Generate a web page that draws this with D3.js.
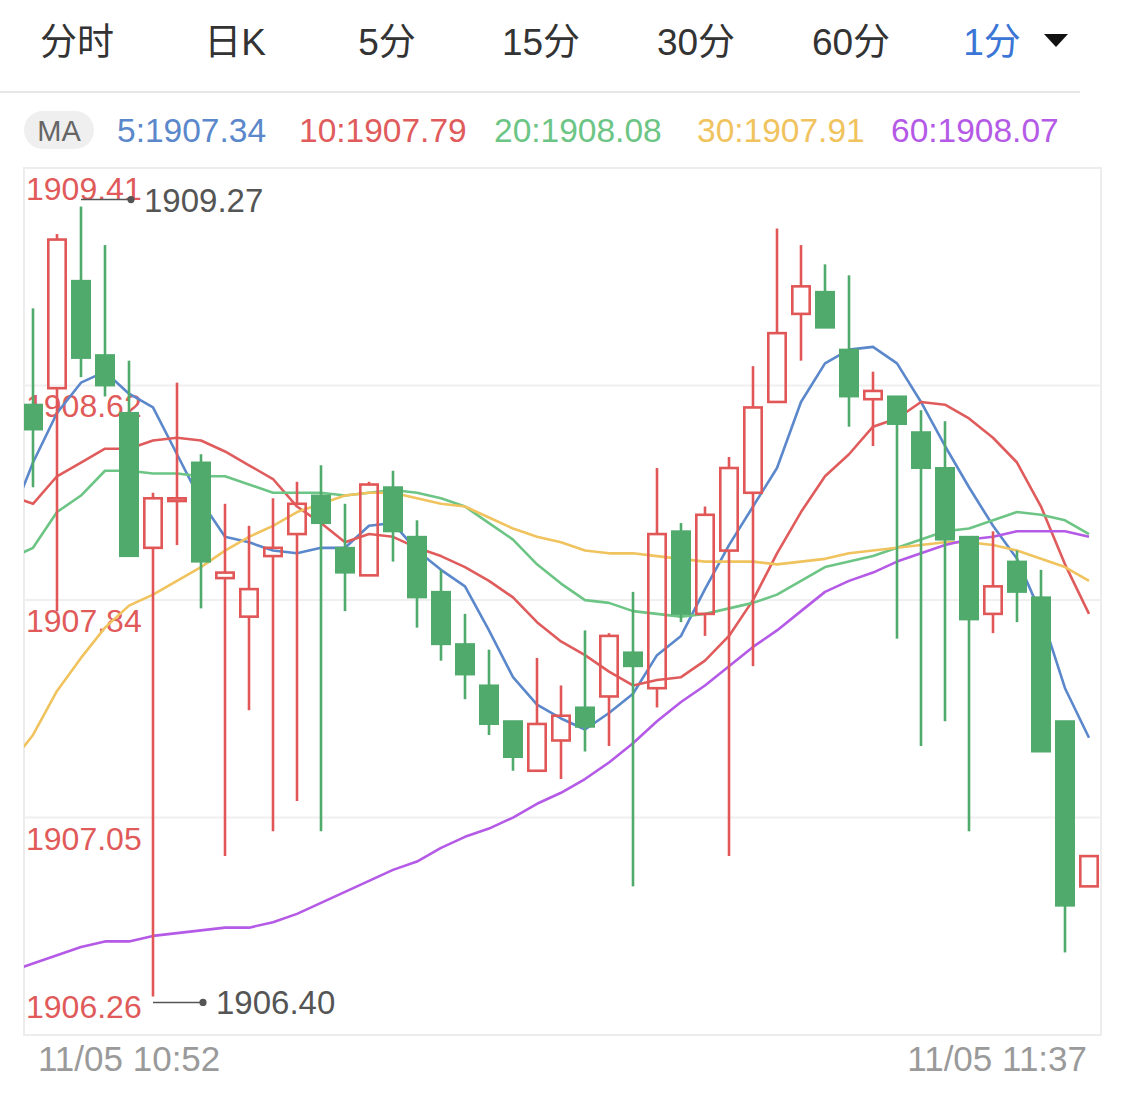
<!DOCTYPE html>
<html><head><meta charset="utf-8">
<script src="https://cdn.jsdelivr.net/npm/d3@7"></script>
<style>body{margin:0;background:#fff;} svg{display:block;}</style>
</head><body><svg id="c" width="1125" height="1102"></svg>
<script>
// ---------- data ----------
const times = ["10:52","10:53","10:54","10:55","10:56","10:57","10:58","10:59","11:00","11:01","11:02","11:03","11:04","11:05","11:06","11:07","11:08","11:09","11:10","11:11","11:12","11:13","11:14","11:15","11:16","11:17","11:18","11:19","11:20","11:21","11:22","11:23","11:24","11:25","11:26","11:27","11:28","11:29","11:31","11:32","11:33","11:34","11:35","11:36","11:37"];
const open  = [1908.55,1908.61,1909.00,1908.73,1908.52,1908.03,1908.20,1908.34,1907.92,1907.78,1908.00,1908.08,1908.22,1908.03,1907.93,1908.25,1908.07,1907.87,1907.68,1907.53,1907.40,1907.22,1907.33,1907.45,1907.49,1907.65,1907.52,1908.09,1907.79,1908.02,1908.23,1908.56,1908.88,1908.96,1908.75,1908.57,1908.58,1908.45,1908.32,1908.07,1907.79,1907.98,1907.85,1907.40,1906.80];
const close = [1908.46,1909.15,1908.72,1908.62,1908.00,1908.21,1908.21,1907.98,1907.94,1907.88,1908.03,1908.19,1908.12,1907.94,1908.26,1908.09,1907.85,1907.68,1907.57,1907.39,1907.27,1907.39,1907.42,1907.38,1907.71,1907.60,1908.08,1907.79,1908.15,1908.32,1908.54,1908.81,1908.98,1908.83,1908.58,1908.60,1908.48,1908.32,1908.06,1907.77,1907.89,1907.87,1907.29,1906.73,1906.91];
const high  = [1908.90,1909.17,1909.27,1909.13,1908.71,1908.23,1908.63,1908.37,1908.19,1908.11,1908.21,1908.27,1908.33,1908.19,1908.27,1908.31,1908.13,1907.95,1907.79,1907.66,1907.40,1907.63,1907.53,1907.73,1907.72,1907.87,1908.32,1908.12,1908.18,1908.36,1908.69,1909.19,1909.13,1909.06,1909.02,1908.67,1908.58,1908.53,1908.49,1908.07,1908.09,1908.02,1907.95,1907.40,1906.91];
const low   = [1908.25,1907.80,1908.65,1908.58,1908.00,1906.40,1908.04,1907.81,1906.91,1907.44,1907.00,1907.11,1907.00,1907.80,1907.93,1907.98,1907.74,1907.62,1907.48,1907.35,1907.22,1907.22,1907.19,1907.29,1907.31,1906.80,1907.45,1907.76,1907.71,1906.91,1907.60,1908.56,1908.71,1908.83,1908.47,1908.40,1907.70,1907.31,1907.40,1907.00,1907.72,1907.76,1907.29,1906.56,1906.80];
// moving averages: first value belongs to the minute before the visible window
const ma5  = [1908.12,1908.34,1908.52,1908.63,1908.67,1908.59,1908.54,1908.37,1908.20,1908.07,1908.05,1908.02,1908.01,1908.03,1908.03,1908.11,1908.12,1908.02,1907.95,1907.89,1907.73,1907.56,1907.46,1907.41,1907.37,1907.43,1907.50,1907.64,1907.71,1907.88,1908.04,1908.18,1908.32,1908.56,1908.70,1908.75,1908.76,1908.70,1908.56,1908.40,1908.25,1908.11,1907.99,1907.79,1907.52,1907.34];
const ma10 = [1908.22,1908.19,1908.29,1908.34,1908.39,1908.39,1908.42,1908.43,1908.42,1908.38,1908.33,1908.28,1908.18,1908.12,1908.05,1908.08,1908.07,1908.03,1908.00,1907.96,1907.91,1907.85,1907.76,1907.69,1907.64,1907.58,1907.53,1907.55,1907.56,1907.62,1907.71,1907.84,1908.01,1908.16,1908.29,1908.37,1908.47,1908.50,1908.56,1908.55,1908.50,1908.43,1908.34,1908.18,1907.97,1907.79];
const ma20 = [1907.99,1908.03,1908.16,1908.22,1908.31,1908.31,1908.30,1908.30,1908.29,1908.29,1908.26,1908.23,1908.23,1908.23,1908.22,1908.23,1908.24,1908.23,1908.21,1908.18,1908.12,1908.06,1907.97,1907.90,1907.84,1907.83,1907.80,1907.79,1907.78,1907.79,1907.81,1907.83,1907.86,1907.91,1907.96,1907.98,1908.00,1908.03,1908.06,1908.09,1908.10,1908.13,1908.16,1908.15,1908.13,1908.08];
const ma30 = [1907.24,1907.35,1907.51,1907.63,1907.74,1907.82,1907.86,1907.91,1907.96,1908.02,1908.07,1908.11,1908.16,1908.19,1908.22,1908.23,1908.23,1908.21,1908.19,1908.18,1908.14,1908.10,1908.07,1908.05,1908.02,1908.01,1908.01,1908.00,1907.99,1907.98,1907.98,1907.98,1907.97,1907.98,1907.99,1908.01,1908.02,1908.03,1908.04,1908.05,1908.05,1908.04,1908.02,1907.99,1907.96,1907.91];
const ma60 = [1906.49,1906.52,1906.55,1906.58,1906.60,1906.60,1906.62,1906.63,1906.64,1906.65,1906.65,1906.67,1906.70,1906.74,1906.78,1906.82,1906.86,1906.89,1906.94,1906.98,1907.01,1907.05,1907.10,1907.14,1907.19,1907.25,1907.32,1907.40,1907.47,1907.53,1907.60,1907.67,1907.73,1907.80,1907.87,1907.91,1907.94,1907.98,1908.01,1908.04,1908.06,1908.07,1908.09,1908.09,1908.09,1908.07];
const maPeriods = [5,10,20,30,60];
const yTicks = [1909.41,1908.62,1907.84,1907.05,1906.26];
const xTickLabels = ["11/05 10:52","11/05 11:37"];
const tabs = ["分时","日K","5分","15分","30分","60分","1分"];

// ---------- layout / style ----------
const NUM = "'Liberation Sans', Arial, 'Noto Sans CJK SC', sans-serif";
const UP = "#e15656", DOWN = "#4faa6c";
const maColors = ["#5b87cb","#e05c5c","#6cc585","#f0c35e","#b45ae6"];
const L = 24, R = 1101, T = 168, B = 1035;

const svg = d3.select("#c");

// tabs
const tabX = [77,235,387,541,696,851,992];
svg.selectAll("text.tab").data(tabs).join("text")
  .attr("x",(d,i)=>tabX[i]).attr("y",55)
  .attr("text-anchor","middle")
  .attr("font-family",NUM).attr("font-size",37)
  .attr("fill",(d,i)=> i===tabs.length-1 ? "#3b76d6" : "#333")
  .text(d=>d);
svg.append("path").attr("d","M1044,34 L1068,34 L1056,47 Z").attr("fill","#111");
svg.append("line").attr("x1",0).attr("x2",1080).attr("y1",92).attr("y2",92)
  .attr("stroke","#e6e6e6").attr("stroke-width",2);

// MA legend
svg.append("rect").attr("x",24).attr("y",111).attr("width",70).attr("height",38)
  .attr("rx",19).attr("fill","#efefef");
svg.append("text").attr("x",59).attr("y",141).attr("text-anchor","middle")
  .attr("font-family",NUM).attr("font-size",29).attr("fill","#666").text("MA");
const maAll = [ma5,ma10,ma20,ma30,ma60];
const legX = [117,299,494,697,891];
svg.selectAll("text.leg").data(maPeriods).join("text")
  .attr("x",(d,i)=>legX[i]).attr("y",142)
  .attr("font-family",NUM).attr("font-size",33.5)
  .attr("fill",(d,i)=>maColors[i])
  .text((d,i)=> d+":"+d3.format(".2f")(maAll[i][maAll[i].length-1]));

// scales
const x = d3.scaleBand().domain(times).range([21,1101]).padding(0);
const cx = t => x(t) + x.bandwidth()/2;
const step = x.step();
const y = d3.scaleLinear().domain([yTicks[yTicks.length-1], yTicks[0]]).range([B,T]);

// frame and grid
svg.append("rect").attr("x",L).attr("y",T).attr("width",R-L).attr("height",B-T)
  .attr("fill","none").attr("stroke","#ededed").attr("stroke-width",2);
svg.selectAll("line.grid").data(yTicks.slice(1,-1)).join("line")
  .attr("x1",L).attr("x2",R).attr("y1",d=>y(d)).attr("y2",d=>y(d))
  .attr("stroke","#efefef").attr("stroke-width",2);

// y labels
svg.selectAll("text.ylab").data(yTicks).join("text")
  .attr("x",26)
  .attr("y",(d,i)=> i===yTicks.length-1 ? y(d)-17 : y(d)+32)
  .attr("font-family",NUM).attr("font-size",32).attr("fill","#e05a5a")
  .text(d=>d3.format(".2f")(d));

// x labels
svg.append("text").attr("x",38).attr("y",1071).attr("font-family",NUM).attr("font-size",35)
  .attr("fill","#9a9a9a").text(xTickLabels[0]);
svg.append("text").attr("x",1087).attr("y",1071).attr("text-anchor","end").attr("font-family",NUM).attr("font-size",35)
  .attr("fill","#9a9a9a").text(xTickLabels[1]);

// clip
svg.append("clipPath").attr("id","clip").append("rect")
  .attr("x",L).attr("y",T).attr("width",R-L).attr("height",B-T);
const plot = svg.append("g").attr("clip-path","url(#clip)");

// MA lines
const x0 = cx(times[0]);
const line = d3.line().x((d,j)=> x0 + (j-1)*step).y(d=>y(d));
maAll.forEach((arr,i)=>{
  plot.append("path").attr("d",line(arr)).attr("fill","none")
    .attr("stroke",maColors[i]).attr("stroke-width",2.6).attr("stroke-linejoin","round");
});

// candles
const candles = times.map((t,i)=>({t,o:open[i],c:close[i],h:high[i],l:low[i],up:close[i]>=open[i]}));
const g = plot.append("g");
candles.forEach(d=>{
  const X = cx(d.t);
  const col = d.up ? UP : DOWN;
  const top = y(Math.max(d.o,d.c)), bot = y(Math.min(d.o,d.c));
  g.append("line").attr("x1",X).attr("x2",X).attr("y1",y(d.h)).attr("y2",top)
    .attr("stroke",col).attr("stroke-width",2.6);
  g.append("line").attr("x1",X).attr("x2",X).attr("y1",bot).attr("y2",y(d.l))
    .attr("stroke",col).attr("stroke-width",2.6);
  if (d.up) {
    g.append("rect").attr("x",X-8.7).attr("y",top).attr("width",17.4).attr("height",Math.max(bot-top,1))
      .attr("fill","none").attr("stroke",col).attr("stroke-width",2.6);
  } else {
    g.append("rect").attr("x",X-10).attr("y",top-1).attr("width",20).attr("height",Math.max(bot-top+2,2))
      .attr("fill",col);
  }
});

// max / min annotations
const iMax = d3.maxIndex(high), iMin = d3.minIndex(low);
function annot(i,val,dy){
  const X = cx(times[i]), Y = y(val)+dy;
  svg.append("line").attr("x1",X).attr("x2",X+50).attr("y1",Y).attr("y2",Y)
    .attr("stroke","#555").attr("stroke-width",1.6);
  svg.append("circle").attr("cx",X+50).attr("cy",Y).attr("r",3.6).attr("fill","#555");
  svg.append("text").attr("x",X+63).attr("y",Y+12).attr("font-family",NUM).attr("font-size",33)
    .attr("fill","#555").text(d3.format(".2f")(val));
}
annot(iMax,high[iMax],-7);
annot(iMin,low[iMin],6);
</script></body></html>
